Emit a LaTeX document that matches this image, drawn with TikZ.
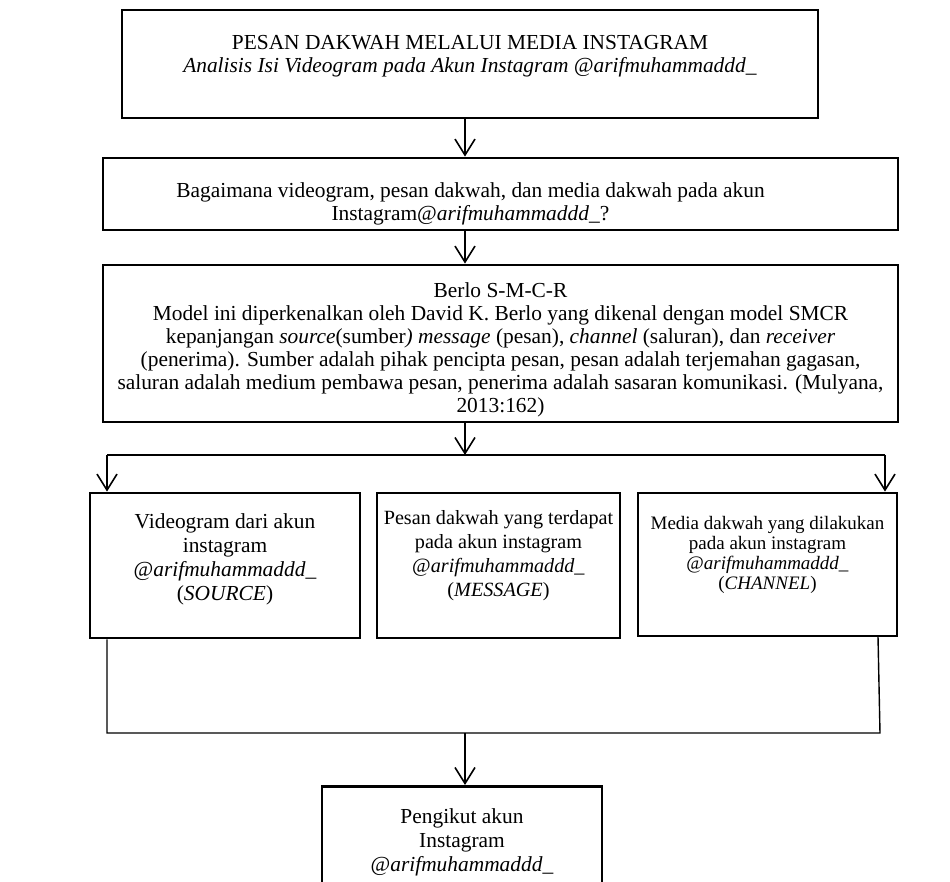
\documentclass[tikz,border=0pt]{standalone}
\usepackage{fontspec}
\setmainfont{Liberation Serif}
\usetikzlibrary{arrows.meta}

\begin{document}
\begin{tikzpicture}[x=0.5pt,y=-0.5pt,
  kotak/.style={draw, line width=1.4pt, inner sep=0pt},
  isi/.style={align=center, inner sep=0pt, font=\fontsize{10.7}{11.5}\selectfont},
  isikecil/.style={isi, font=\fontsize{10.7}{12}\selectfont},
  panah/.style={line width=0.8pt, -{Straight Barb[length=8pt,width=10pt]}},
  garis/.style={line width=0.7pt}]
\useasboundingbox (0,0) rectangle (950,882);
\clip (0,0) rectangle (950,882);

\coordinate (spine) at (465,0);

\node[kotak, minimum width=348pt, minimum height=54pt] (judul) at (470,64) {};
\node[isi] at ([yshift=4pt]judul.center)
  {PESAN DAKWAH MELALUI MEDIA INSTAGRAM\\
   \textit{Analisis Isi Videogram pada Akun Instagram @arifmuhammaddd\_}};

\node[kotak, minimum width=397.5pt, minimum height=36pt] (rumusan) at (500.5,194) {};
\node[isi] at ([xshift=-15pt,yshift=-5pt]rumusan.center)
  {Bagaimana videogram, pesan dakwah, dan media dakwah pada akun\\
   Instagram@\textit{arifmuhammaddd\_}?};

\node[kotak, minimum width=397.5pt, minimum height=78.5pt] (teori) at (500.5,343.5) {};
\node[isi] at ([yshift=-3pt]teori.center)
  {Berlo S-M-C-R\\
   Model ini diperkenalkan oleh David K. Berlo yang dikenal dengan model SMCR\\
   kepanjangan \textit{source}(sumber\textit{)} \textit{message} (pesan), \textit{channel} (saluran), dan \textit{receiver}\\
   (penerima). Sumber adalah  pihak pencipta pesan, pesan adalah terjemahan gagasan,\\
   saluran adalah medium pembawa pesan, penerima adalah sasaran komunikasi. (Mulyana,\\
   2013:162)};

\node[kotak, minimum width=135pt, minimum height=72.5pt] (source) at (225,565.5) {};
\node[isikecil] at ([yshift=3pt]source.center)
  {Videogram dari akun\\ instagram\\ @\textit{arifmuhammaddd\_}\\ (\textit{SOURCE})};

\node[kotak, minimum width=121.5pt, minimum height=72.5pt] (message) at (498.5,565.5) {};
\node[isi, font=\fontsize{10.1}{12}\selectfont] at ([yshift=5pt]message.center)
  {Pesan dakwah yang terdapat\\ pada akun instagram\\ @\textit{arifmuhammaddd\_}\\ (\textit{MESSAGE})};

\node[kotak, minimum width=129.5pt, minimum height=71.5pt] (channel) at (767.5,564.5) {};
\node[isi, font=\fontsize{9.5}{10}\selectfont] at ([yshift=5pt]channel.center)
  {Media dakwah yang dilakukan\\ pada akun instagram\\ @\textit{arifmuhammaddd\_}\\ (\textit{CHANNEL})};

\node[kotak, minimum width=140pt, minimum height=57pt, anchor=north] (pengikut) at (462,785) {};
\node[isikecil] at ([yshift=-28.5pt]pengikut.north)
  {Pengikut akun\\ Instagram\\ @\textit{arifmuhammaddd\_}};

\coordinate (cabang) at (465,455);
\coordinate (kiri) at (107,455);
\coordinate (kanan) at (885,455);
\coordinate (kiribawah) at (107,733);
\coordinate (kananbawah) at (880,733);
\coordinate (kananatas) at (878,636);
\coordinate (tengahbawah) at (465,733);

\draw[panah] (judul.south -| spine) -- (rumusan.north -| spine);
\draw[panah] (rumusan.south -| spine) -- (teori.north -| spine);
\draw[panah] (teori.south -| spine) -- (cabang);
\draw[garis] (kiri) -- (kanan);
\draw[panah] (kiri) -- (kiri |- source.north);
\draw[panah] (kanan) -- (kanan |- channel.north);

\draw[garis] (kiribawah |- source.south) -- (kiribawah) -- (kananbawah) -- (kananatas);
\draw[panah] (tengahbawah) -- (pengikut.north -| tengahbawah);

\end{tikzpicture}
\end{document}
